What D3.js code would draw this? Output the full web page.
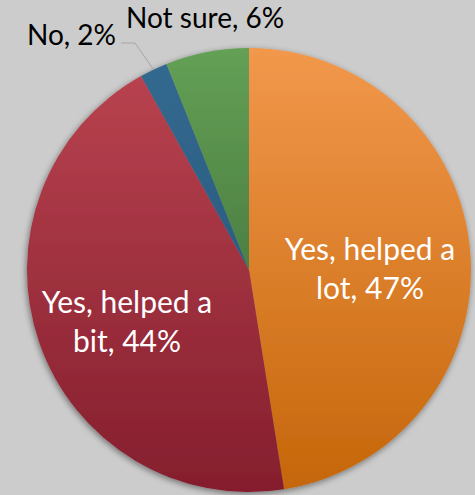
<!DOCTYPE html>
<html>
<head>
<meta charset="utf-8">
<script src="https://cdn.jsdelivr.net/npm/d3@7"></script>
<style>
  html, body { margin: 0; padding: 0; background: #cccccc; }
  svg { display: block; }
</style>
</head>
<body>
<svg id="chart" width="475" height="495"></svg>
<script>
// Survey responses
const categories = ["Yes, helped a lot", "Yes, helped a bit", "No", "Not sure"];
const values = [47, 44, 2, 6];
const labelLines = [["Yes, helped a", "lot, 47%"], ["Yes, helped a", "bit, 44%"], ["No, 2%"], ["Not sure, 6%"]];
// light (top) and dark (bottom) shade per slice
const colorsTop = ["#f2984c", "#b8424f", "#33698f", "#64a055"];
const colorsBottom = ["#c5660a", "#841e2d", "#2b5d82", "#4c7f43"];

const W = 475, H = 495;
const cx = 249, cy = 270, R = 222;
const svg = d3.select("#chart");

const defs = svg.append("defs");
const shadow = defs.append("filter").attr("id", "pieShadow")
  .attr("x", "-10%").attr("y", "-10%").attr("width", "120%").attr("height", "120%");
shadow.append("feDropShadow").attr("dx", -1).attr("dy", 2).attr("stdDeviation", 3)
  .attr("flood-color", "#000").attr("flood-opacity", 0.45);

categories.forEach((c, i) => {
  const g = defs.append("linearGradient").attr("id", "grad" + i)
    .attr("x1", 0).attr("y1", 0).attr("x2", 0).attr("y2", 1);
  g.append("stop").attr("offset", "0%").attr("stop-color", colorsTop[i]);
  g.append("stop").attr("offset", "100%").attr("stop-color", colorsBottom[i]);
});

const pie = d3.pie().sort(null).value(d => d)(values);
const arc = d3.arc().innerRadius(0).outerRadius(R);

const g = svg.append("g").attr("transform", `translate(${cx},${cy})`);
const slices = g.append("g").attr("filter", "url(#pieShadow)");
slices.selectAll("path").data(pie).join("path")
  .attr("d", arc)
  .attr("fill", (d, i) => `url(#grad${i})`);

const font = "Lato, 'Open Sans', sans-serif";

// inside labels for the two large slices
const inside = [
  { i: 0, x: 370 - cx, y: 260 - cy },
  { i: 1, x: 127 - cx, y: 313 - cy }
];
inside.forEach(o => {
  const t = g.append("text")
    .attr("text-anchor", "middle")
    .attr("fill", "#ffffff")
    .style("font-family", font)
    .style("font-size", "30px");
  labelLines[o.i].forEach((line, k) => {
    t.append("tspan").attr("x", o.x).attr("y", o.y + k * 39).text(line);
  });
});

// outside labels for the two small slices
const noArc = pie[2];
const noMid = (noArc.startAngle + noArc.endAngle) / 2;
const edgeX = Math.sin(noMid) * R, edgeY = -Math.cos(noMid) * R;
g.append("path")
  .attr("d", `M${121 - cx},${43 - cy} L${135 - cx},${43 - cy} L${edgeX},${edgeY}`)
  .attr("fill", "none").attr("stroke", "#a6a6a6").attr("stroke-width", 1);

g.append("text")
  .attr("x", 27 - cx).attr("y", 45 - cy)
  .attr("fill", "#000000")
  .style("font-family", font).style("font-size", "28px")
  .text(labelLines[2][0]);

g.append("text")
  .attr("x", 126 - cx).attr("y", 28 - cy)
  .attr("fill", "#000000")
  .style("font-family", font).style("font-size", "28px")
  .text(labelLines[3][0]);
</script>
</body>
</html>
